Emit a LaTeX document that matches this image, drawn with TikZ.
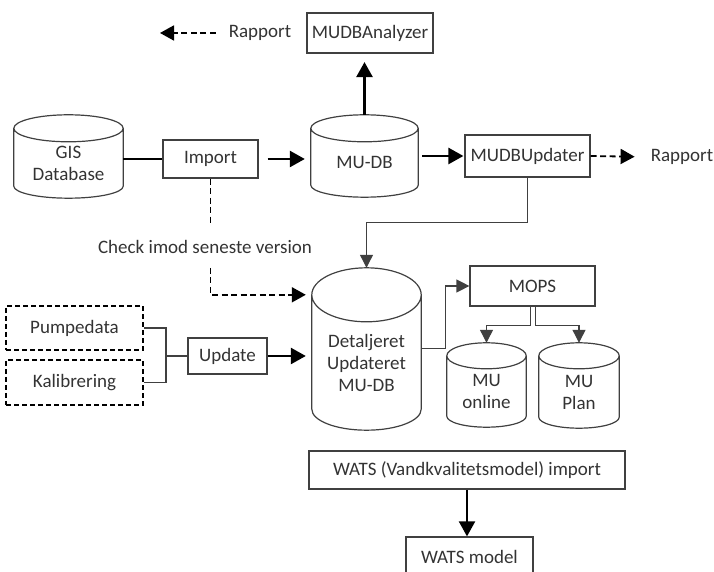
\documentclass[tikz,border=0pt]{standalone}
\usepackage{fontspec}
\setmainfont{Carlito}
\usetikzlibrary{arrows.meta,calc}
\definecolor{boxgray}{HTML}{404040}
\definecolor{txtgray}{HTML}{333333}

% database drawn round a node: node name, top radius, bottom radius
\newcommand{\dbshape}[3]{%
  \draw[dbline] let \p1=(#1.north west), \p2=(#1.north east), \n1={(\x2-\x1)/2} in
    (#1.north) ellipse [x radius=\n1, y radius=#2]
    (#1.north west) -- ([yshift=#3]#1.south west)
    arc [start angle=180, end angle=360, x radius=\n1, y radius=#3]
    -- (#1.north east);}

\begin{document}
\begin{tikzpicture}[x=1pt,y=1pt,
  every node/.style={font=\fontsize{19}{22}\selectfont,text=txtgray,inner sep=0pt,align=center},
  box/.style={draw=boxgray,line width=1.2pt},
  dashbox/.style={draw=black,line width=1.6pt,dash pattern=on 5pt off 3pt},
  dbline/.style={draw=boxgray,line width=1.2pt},
  conn/.style={draw=boxgray,line width=1.2pt},
  thickarr/.style={line width=2.6pt,-{Triangle[width=16pt,length=15pt]}},
  thinarr/.style={draw=boxgray,line width=1.2pt,-{Triangle[width=13pt,length=13pt]}},
  dashline/.style={line width=1.8pt,dash pattern=on 6pt off 3.5pt},
  dasharr/.style={dashline,-{Triangle[width=15pt,length=14pt]}}]

\path[use as bounding box] (0,0) rectangle (714,572);
\clip (0,0) rectangle (714,572);

%%%%%%%%%%%%%%%%%%%%%%%%%%%%
\node [box,minimum width=126pt,minimum height=40pt] (ana) at (370,539) {MUDBAnalyzer};
\node (rapL) at (260,539) {Rapport};
\coordinate (rapLend) at (160,539);
\draw [dasharr,shorten <=13pt](rapL.west)--(rapLend);

%%%%%%%%%%%%%%%%%%%%%%%%%%%%
\node [minimum width=109pt,minimum height=69.5pt] (gis) at (68.5,408.75) {GIS\\Database};
\dbshape{gis}{13.5pt}{12pt}
\node [box,minimum width=95pt,minimum height=38pt] (imp) at (210.5,413) {Import};
\node [minimum width=107pt,minimum height=68.5pt] (mudb) at (364.5,409.25) {MU-DB};
\dbshape{mudb}{13.5pt}{12pt}
\node [box,minimum width=125pt,minimum height=42pt] (upd) at (527.5,416) {MUDBUpdater};
\node (rapR) at (682,415) {Rapport};

\draw [line width=2.6pt](imp.west -| gis.east)--(imp.west);
\draw [thickarr,shorten <=9pt,shorten >=6pt](imp.east)--(imp.east -| mudb.west);
\draw [thickarr,shorten <=4pt,shorten >=1pt](upd.west -| mudb.east)--(upd.west);
\draw [thickarr,shorten >=22pt]([yshift=13.5pt]mudb.north)--([yshift=13.5pt]mudb.north |- ana.south);
\draw [dasharr,shorten >=16pt](upd.east)--(rapR.west);

%%%%%%%%%%%%%%%%%%%%%%%%%%%%
\node (chk) at (205,325) {Check imod seneste version};
\node [minimum width=109pt,minimum height=135pt] (det) at (366.5,209.5) {Detaljeret\\Updateret\\MU-DB};
\dbshape{det}{27pt}{21pt}
\draw [dashline,shorten >=17pt](imp.south)--(imp.south |- chk.north);
\draw [dasharr,shorten <=14pt,shorten >=6pt](imp.south |- chk.south) |- (det.north west);
\draw [thinarr](upd.south)--++(0,-45) -| ([yshift=27pt]det.north);

%%%%%%%%%%%%%%%%%%%%%%%%%%%%
\node [dashbox,minimum width=137pt,minimum height=44pt] (pump) at (74.5,244) {Pumpedata};
\node [dashbox,minimum width=137pt,minimum height=45pt] (kal) at (74.5,189.5) {Kalibrering};
\node [box,minimum width=79pt,minimum height=36pt] (updt) at (227.5,216) {Update};
\coordinate (jn) at (166,216);
\draw [conn](pump.east) -| (jn) |- (kal.east);
\draw [conn](jn)--(updt.west);
\draw [thickarr,shorten >=6pt](updt.east)--(updt.east -| det.west);

%%%%%%%%%%%%%%%%%%%%%%%%%%%%
\node [box,minimum width=125pt,minimum height=40pt] (mops) at (532.5,286) {MOPS};
\node [minimum width=79pt,minimum height=71pt] (onl) at (486.5,180.5) {MU\\online};
\dbshape{onl}{13pt}{11pt}
\node [minimum width=80pt,minimum height=72pt] (plan) at (579,180) {MU\\Plan};
\dbshape{plan}{13pt}{11pt}
\draw [thinarr]([yshift=14pt]det.east)--++(24,0) |- (mops.west);
\draw [thinarr]([xshift=-2pt]mops.south)--++(0,-19) -| ([yshift=13pt]onl.north);
\draw [thinarr]([xshift=3pt]mops.south)--++(0,-19) -| ([yshift=13pt]plan.north);

%%%%%%%%%%%%%%%%%%%%%%%%%%%%
\node [box,minimum width=316pt,minimum height=38pt] (wimp) at (467,102) {WATS (Vandkvalitetsmodel) import};
\node [box,minimum width=127pt,minimum height=40pt] (wats) at (469.5,15) {WATS model};
\draw [thickarr,line width=2pt](wimp.south)--(wimp.south |- wats.north);

\end{tikzpicture}
\end{document}
